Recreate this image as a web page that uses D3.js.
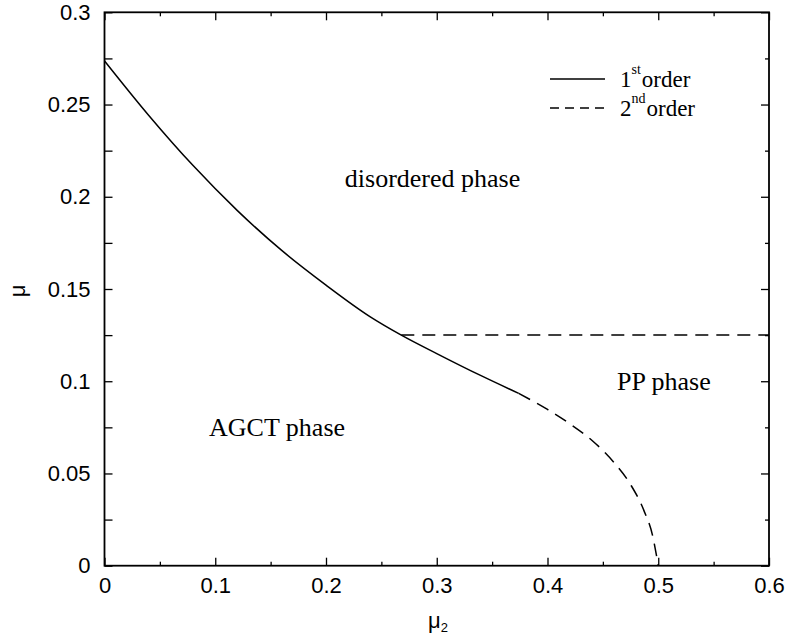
<!DOCTYPE html>
<html>
<head>
<meta charset="utf-8">
<script src="https://cdn.jsdelivr.net/npm/d3@7"></script>
<style>
  body { margin: 0; background: #fff; }
  svg { display: block; }
</style>
</head>
<body>
<div id="chart"></div>
<script>
// phase boundaries (mu2, mu)
var firstOrderMu2 = [0, 0.04, 0.08, 0.12, 0.16, 0.2, 0.24, 0.268, 0.3, 0.34, 0.374];
var firstOrderMu  = [0.2737, 0.2441, 0.2169, 0.1925, 0.1709, 0.1521, 0.1349, 0.125, 0.115, 0.103, 0.0934];

var secondOrderMu2 = [0.374, 0.40, 0.42, 0.44, 0.46, 0.475, 0.487, 0.495, 0.500];
var secondOrderMu  = [0.0934, 0.0847, 0.077, 0.068, 0.056, 0.044, 0.030, 0.016, 0];

var ppLineMu2 = [0.268, 0.6];
var ppLineMu  = [0.125, 0.125];

var xTicks = [0, 0.1, 0.2, 0.3, 0.4, 0.5, 0.6];
var xMinorTicks = [0.05, 0.15, 0.25, 0.35, 0.45, 0.55];
var yTicks = [0, 0.05, 0.1, 0.15, 0.2, 0.25, 0.3];
var yMinorTicks = [0.025, 0.075, 0.125, 0.175, 0.225, 0.275];

var phaseNames = ["disordered phase", "AGCT phase", "PP phase"];
var phaseAt = [[0.217, 0.2053], [0.0944, 0.0703], [0.4628, 0.0952]];


// chart size
var svgWidth = 787;
var svgHeight = 639;

var margin = { top: 12.3, right: 18, bottom: 73.3, left: 104.5 };

var width = svgWidth - margin.left - margin.right;
var height = svgHeight - margin.top - margin.bottom;

var svg = d3.select("#chart")
  .append("svg")
  .attr("width", svgWidth)
  .attr("height", svgHeight);

var chartGroup = svg.append("g")
  .attr("transform", `translate(${margin.left}, ${margin.top})`);

var xScale = d3.scaleLinear().domain([0, 0.6]).range([0, width]);
var yScale = d3.scaleLinear().domain([0, 0.3]).range([height, 0]);

var fmt = d => String(+d.toFixed(3));
var sans = "'Liberation Sans', Arial, Helvetica, sans-serif";
var serif = "'Liberation Serif', 'Times New Roman', Times, serif";

function styleAxis(g) {
  g.select(".domain").remove();
  g.selectAll("line").attr("stroke", "#000").attr("stroke-width", 1.3);
  g.selectAll("text").attr("font-family", sans).attr("font-size", 22).attr("fill", "#000");
}

// bottom + top
chartGroup.append("g")
  .attr("transform", `translate(0, ${height})`)
  .call(d3.axisBottom(xScale).tickValues(xTicks).tickFormat(fmt).tickSizeInner(-8).tickSizeOuter(0).tickPadding(12))
  .call(styleAxis);
chartGroup.append("g")
  .attr("transform", `translate(0, ${height})`)
  .call(d3.axisBottom(xScale).tickValues(xMinorTicks).tickFormat("").tickSizeInner(-4).tickSizeOuter(0))
  .call(styleAxis);
chartGroup.append("g")
  .call(d3.axisTop(xScale).tickValues(xTicks).tickFormat("").tickSizeInner(-8).tickSizeOuter(0))
  .call(styleAxis);
chartGroup.append("g")
  .call(d3.axisTop(xScale).tickValues(xMinorTicks).tickFormat("").tickSizeInner(-4).tickSizeOuter(0))
  .call(styleAxis);

// left + right
chartGroup.append("g")
  .call(d3.axisLeft(yScale).tickValues(yTicks).tickFormat(fmt).tickSizeInner(-8).tickSizeOuter(0).tickPadding(14))
  .call(styleAxis);
chartGroup.append("g")
  .call(d3.axisLeft(yScale).tickValues(yMinorTicks).tickFormat("").tickSizeInner(-8).tickSizeOuter(0))
  .call(styleAxis);
chartGroup.append("g")
  .attr("transform", `translate(${width}, 0)`)
  .call(d3.axisRight(yScale).tickValues(yTicks).tickFormat("").tickSizeInner(-8).tickSizeOuter(0))
  .call(styleAxis);
chartGroup.append("g")
  .attr("transform", `translate(${width}, 0)`)
  .call(d3.axisRight(yScale).tickValues(yMinorTicks).tickFormat("").tickSizeInner(-4).tickSizeOuter(0))
  .call(styleAxis);

// frame
chartGroup.append("rect")
  .attr("width", width)
  .attr("height", height)
  .attr("fill", "none")
  .attr("stroke", "#000")
  .attr("stroke-width", 1.8);


// boundary lines
var line = d3.line()
  .x(d => xScale(d[0]))
  .y(d => yScale(d[1]))
  .curve(d3.curveMonotoneX);

function pairs(xs, ys) { return xs.map((x, i) => [x, ys[i]]); }

chartGroup.append("path")
  .datum(pairs(firstOrderMu2, firstOrderMu))
  .attr("d", line)
  .attr("fill", "none")
  .attr("stroke", "#000")
  .attr("stroke-width", 1.5);

chartGroup.append("path")
  .datum(pairs(secondOrderMu2, secondOrderMu))
  .attr("d", line)
  .attr("fill", "none")
  .attr("stroke", "#000")
  .attr("stroke-width", 1.5)
  .attr("stroke-dasharray", "13,8");

chartGroup.append("path")
  .datum(pairs(ppLineMu2, ppLineMu))
  .attr("d", line)
  .attr("fill", "none")
  .attr("stroke", "#000")
  .attr("stroke-width", 1.5)
  .attr("stroke-dasharray", "13,8");


// phase labels
chartGroup.selectAll(".phase")
  .data(phaseNames)
  .enter()
  .append("text")
  .classed("phase", true)
  .attr("x", (d, i) => xScale(phaseAt[i][0]))
  .attr("y", (d, i) => yScale(phaseAt[i][1]))
  .attr("font-family", serif)
  .attr("font-size", 26)
  .text(d => d);


// legend
var legend = svg.append("g");
var legendItems = [["1", "st", null], ["2", "nd", "9,6"]];
legendItems.forEach(function(item, i) {
  var ly = 79 + i * 29;
  legend.append("line")
    .attr("x1", 550).attr("x2", 605)
    .attr("y1", ly).attr("y2", ly)
    .attr("stroke", "#000")
    .attr("stroke-width", 1.5)
    .attr("stroke-dasharray", item[2]);
  var t = legend.append("text")
    .attr("x", 620)
    .attr("y", ly + 8)
    .attr("font-family", serif)
    .attr("font-size", 23);
  t.append("tspan").text(item[0]);
  t.append("tspan").attr("font-size", 14).attr("dy", -13).text(item[1]);
  t.append("tspan").attr("dy", 13).attr("dx", 1).text("order");
});


// axis titles
svg.append("text")
  .attr("transform", "translate(25, 291) rotate(-90)")
  .attr("text-anchor", "middle")
  .attr("font-family", sans)
  .attr("font-size", 22)
  .text("μ");

var xt = svg.append("text")
  .attr("x", 438)
  .attr("y", 628)
  .attr("text-anchor", "middle")
  .attr("font-family", sans)
  .attr("font-size", 22);
xt.append("tspan").text("μ");
xt.append("tspan").attr("font-size", 13).attr("dy", 4).text("2");
</script>
</body>
</html>
